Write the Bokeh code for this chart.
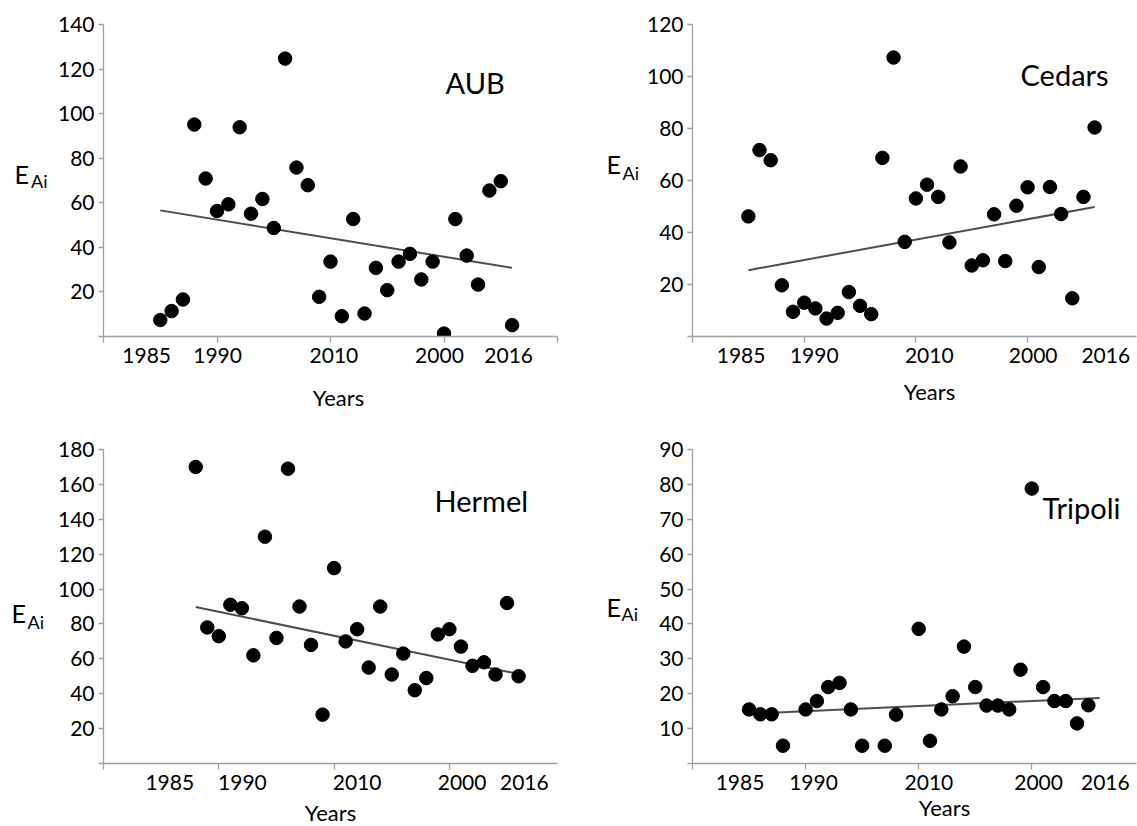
import numpy as np
from bokeh.plotting import figure
from bokeh.models import Range1d, FixedTicker, Label
from bokeh.layouts import row, column
from bokeh.embed import file_html
from bokeh.resources import INLINE

FONT = "Lato"
AXIS_GRAY = "#a0a0a0"
TREND_GRAY = "#4d4d4d"

# ---------------- data ----------------
years = list(range(1985, 2017))
hermel_years = list(range(1988, 2017))

aub_values = [7.4, 11.4, 16.6, 95.1, 70.9, 56.3, 59.3, 93.9, 55.1, 61.7, 48.7, 124.7,
              75.8, 67.9, 17.8, 33.6, 9.1, 52.7, 10.3, 30.8, 20.8, 33.6, 37.1, 25.6,
              33.6, 1.3, 52.7, 36.3, 23.3, 65.5, 69.7, 5.1]
cedars_values = [46.2, 71.7, 67.8, 19.7, 9.5, 13.0, 10.8, 6.9, 9.1, 17.1, 11.8, 8.6,
                 68.7, 107.3, 36.4, 53.1, 58.4, 53.7, 36.2, 65.4, 27.3, 29.3, 47.0, 29.0,
                 50.3, 57.4, 26.7, 57.5, 47.1, 14.7, 53.7, 80.4]
hermel_values = [170, 78, 73, 91, 89, 62, 130, 72, 169, 90, 68, 28, 112, 70, 77, 55,
                 90, 51, 63, 42, 49, 74, 77, 67, 56, 58, 51, 92, 50]
tripoli_values = [15.5, 14.1, 14.1, 5.1, None, 15.5, 17.9, 21.9, 23.1, 15.5, 5.1, None,
                  5.1, 14.0, None, 38.6, 6.5, 15.5, 19.3, 33.5, 21.9, 16.6, 16.6, 15.5,
                  26.9, 78.8, 21.9, 17.9, 17.9, 11.5, 16.7, None]

aub_trend_x, aub_trend_y = [1985, 2016], [56.6, 30.8]
cedars_trend_x, cedars_trend_y = [1985, 2016], [25.5, 49.8]
hermel_trend_x, hermel_trend_y = [1988, 2016], [89.7, 51.3]
tripoli_trend_x, tripoli_trend_y = [1987.5, 2016], [14.6, 18.8]

x_tick_labels = ["1985", "1990", "2010", "2000", "2016"]
x_title = "Years"
y_title_main, y_title_sub = "E", "Ai"
site_names = ["AUB", "Cedars", "Hermel", "Tripoli"]

# ---------------- layout / styling ----------------
# text positions are page pixels of the text's vertical middle
panels = [
    dict(name=site_names[0], xs=years, ys=aub_values, tx=aub_trend_x, ty=aub_trend_y,
         page=(0, 0), size=(560, 410), border=(103, 22, 3, 74), sx=11.35,
         ymax=140, ystep=20,
         label_pos=[1983.8, 1990.05, 2000.3, 2009.6, 2015.7],
         e=(14, 172), ai=(30.5, 179.5), title=(445, 80), years=(338, 397)),
    dict(name=site_names[1], xs=years, ys=cedars_values, tx=cedars_trend_x, ty=cedars_trend_y,
         page=(560, 0), size=(577, 410), border=(132, 24, 1, 71), sx=11.17,
         ymax=120, ystep=20,
         label_pos=[1984.35, 1990.9, 2001.2, 2010.5, 2017.0],
         e=(606, 165), ai=(622, 173.5), title=(1020, 74), years=(929, 395)),
    dict(name=site_names[2], xs=hermel_years, ys=hermel_values, tx=hermel_trend_x, ty=hermel_trend_y,
         page=(0, 410), size=(560, 416), border=(103, 36, 3, 63), sx=11.53,
         ymax=180, ystep=20,
         label_pos=[1985.75, 1992.05, 2002.0, 2011.1, 2016.5],
         e=(11, 611), ai=(27, 620), title=(434, 497), years=(330, 812)),
    dict(name=site_names[3], xs=years, ys=tripoli_values, tx=tripoli_trend_x, ty=tripoli_trend_y,
         page=(560, 410), size=(577, 416), border=(132, 39, 1, 59), sx=11.31,
         ymax=90, ystep=10,
         label_pos=[1984.2, 1990.7, 2000.9, 2010.6, 2016.5],
         e=(606, 608), ai=(621, 616), title=(1042, 508), years=(944, 812)),
]


def make_panel(c):
    W, H = c["size"]
    L, T, R, B = c["border"]
    fw, fh = W - L - R, H - T - B
    x0 = 1980.0
    x1 = x0 + fw / c["sx"]
    sy = fh / c["ymax"]
    ax0 = c["page"][0] + L
    ay0 = c["page"][1] + H - B

    def to_data(px, py):
        return x0 + (px - ax0) / c["sx"], (ay0 - py) / sy

    p = figure(width=W, height=H, x_range=Range1d(x0, x1), y_range=Range1d(0, c["ymax"]),
               min_border_left=L, min_border_right=R, min_border_top=T, min_border_bottom=B,
               output_backend="svg", toolbar_location=None, title=None)
    p.xgrid.visible = False
    p.ygrid.visible = False
    p.outline_line_color = None
    p.background_fill_color = "white"
    p.border_fill_color = "white"

    # x axis: tick marks every 10 years, labels as printed in the source
    p.xaxis.ticker = FixedTicker(ticks=c["label_pos"], minor_ticks=[1980, 1990, 2000, 2010, 2020])
    p.xaxis.major_label_overrides = {pos: lab for pos, lab in zip(c["label_pos"], x_tick_labels)}
    p.xaxis.major_tick_line_color = None
    p.xaxis.major_tick_out = 0
    p.xaxis.major_tick_in = 0
    p.xaxis.minor_tick_out = 6
    p.xaxis.minor_tick_in = 0
    p.xaxis.minor_tick_line_color = AXIS_GRAY
    p.xaxis.minor_tick_line_width = 1.3
    p.xaxis.major_label_standoff = 5

    yt = list(range(0, c["ymax"] + 1, c["ystep"]))
    p.yaxis.ticker = FixedTicker(ticks=yt, minor_ticks=[])
    p.yaxis.major_label_overrides = {0: ""}
    p.yaxis.major_tick_out = 5
    p.yaxis.major_tick_in = 0
    p.yaxis.major_tick_line_color = AXIS_GRAY
    p.yaxis.major_tick_line_width = 1.3
    p.yaxis.minor_tick_line_color = None
    p.yaxis.major_label_standoff = 4

    for ax in (p.xaxis, p.yaxis):
        ax.axis_line_color = AXIS_GRAY
        ax.axis_line_width = 1.3
        ax.major_label_text_font = FONT
        ax.major_label_text_font_size = "21px"
        ax.major_label_text_color = "black"

    p.line(c["tx"], c["ty"], line_color=TREND_GRAY, line_width=2)
    ys = np.array(c["ys"], dtype=float)
    p.scatter(c["xs"], ys, size=13.5, color="black")

    def add_label(txt, pos, size, align="left", side=None):
        x, y = to_data(*pos)
        lab = Label(x=x, y=y, text=txt, text_font=FONT, text_font_size=size,
                    text_color="black", text_align=align, text_baseline="middle")
        if side is None:
            p.add_layout(lab)
        else:
            p.add_layout(lab, side)

    add_label(y_title_main, c["e"], "25px", side="left")
    add_label(y_title_sub, c["ai"], "18px", side="left")
    add_label(c["name"], c["title"], "29px")
    add_label(x_title, c["years"], "22px", align="center", side="below")
    return p


figs = [make_panel(c) for c in panels]
layout = column(row(figs[0], figs[1], spacing=0), row(figs[2], figs[3], spacing=0), spacing=0)

open("out.html", "w").write(file_html(layout, INLINE))
